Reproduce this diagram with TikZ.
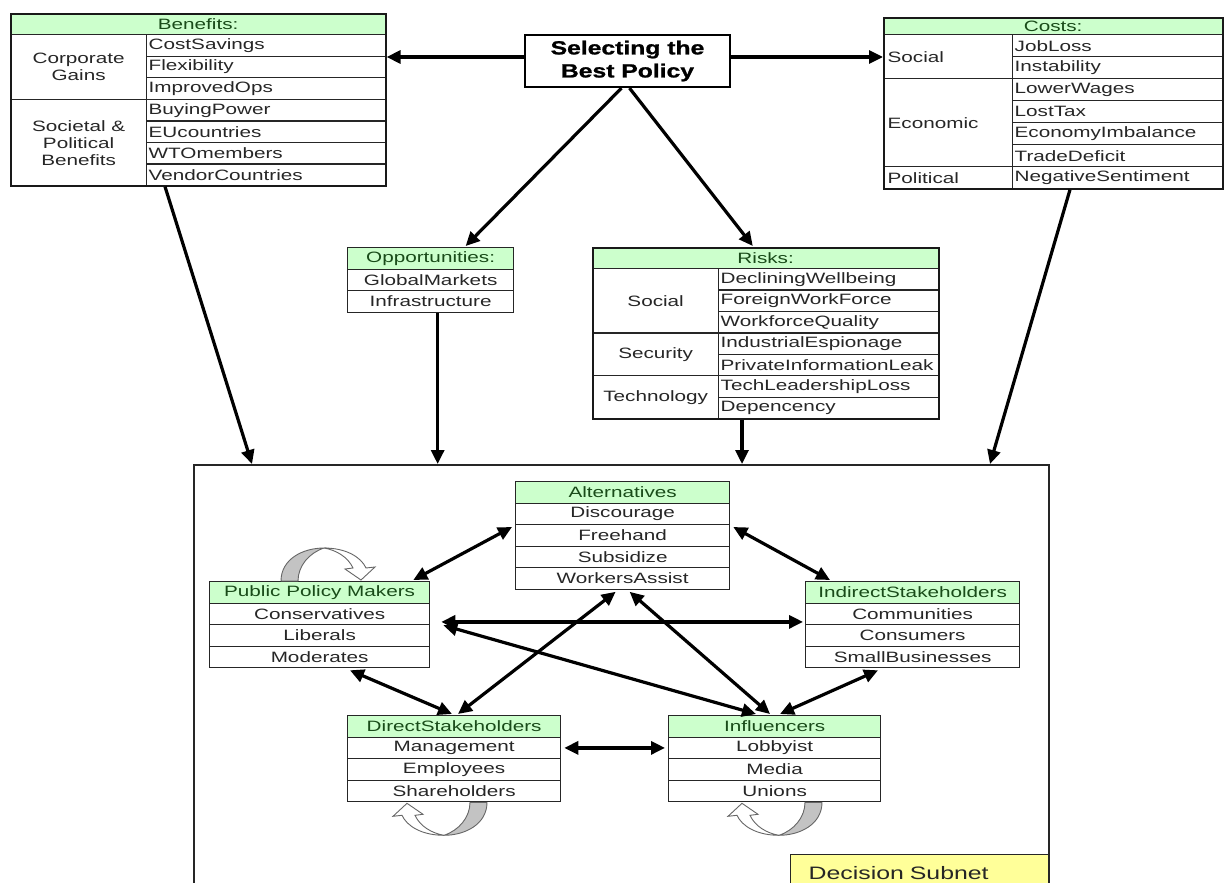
\documentclass[tikz,border=0pt]{standalone}
\usepackage{fontspec}
\setmainfont{Liberation Sans}[FakeStretch=1.38]
\newfontfamily\selfont{Liberation Sans}[FakeStretch=1.3, BoldFeatures={FakeBold=1.2}]
\usetikzlibrary{arrows.meta,calc}
\definecolor{hdrgreen}{RGB}{204,255,204}
\definecolor{hdrtext}{RGB}{25,75,25}
\definecolor{lblyellow}{RGB}{255,255,153}
\definecolor{loopgray}{RGB}{195,195,195}
\newcommand\tabfont{\fontsize{15}{17}\selectfont}
\newcommand\subtab[6]{%
  \node[hdr, minimum width=#4pt, minimum height=21.5pt, anchor=north west] (#1-h) at (#2,#3) {#5};
  \foreach \rowtxt [count=\i] in {#6} {
    \node[ccell, minimum width=#4pt, anchor=north west] (#1-\i) at ({#2},{#3+21.5+(\i-1)*21.5}) {\rowtxt};
  }%
}
\newcommand\loopshape{%
  \path[loopback] (140,0) .. controls (140,22) and (118,33) .. (97,33) .. controls (112,28) and (123,15) .. (123,0) -- cycle;
  \path[loopfront] (97,33) .. controls (75,33) and (60,24) .. (55,13) -- (46,14) -- (60,1) -- (76,12) -- (68,13) .. controls (73,24) and (85,31) .. (97,33) -- cycle;
}
\begin{document}
\begin{tikzpicture}[x=1pt,y=-1pt,
  cellbase/.style={draw=black!85, line width=1.3pt, inner sep=0pt, font=\tabfont, text=black!85},
  hdr/.style={cellbase, fill=hdrgreen, text=hdrtext},
  ccell/.style={cellbase, align=center, minimum height=21.5pt},
  lcell/.style={cellbase, align=left, text width=#1, inner xsep=2pt},
  glabel/.style={cellbase, align=center},
  llabel/.style={cellbase, align=left, text width=121pt, inner xsep=4pt},
  outer/.style={draw=black!90, line width=1.6pt, inner sep=0pt},
  selbox/.style={draw=black, line width=2.2pt, align=center, inner sep=0pt, font=\selfont\bfseries\fontsize{19}{23}\selectfont},
  sarr/.style={line width=3.2pt, -{Triangle[length=14pt,width=13pt]}},
  darr/.style={line width=3.2pt, {Triangle[length=14pt,width=13pt]}-{Triangle[length=14pt,width=13pt]}},
  loopback/.style={fill=loopgray, draw=black!60, line width=0.9pt},
  loopfront/.style={fill=white, draw=black!60, line width=0.9pt},
]
\useasboundingbox (0,0) rectangle (1229,883);
\clip (0,0) rectangle (1229,883);

% ---------- Benefits ----------
\node[hdr, minimum width=375pt, minimum height=21pt, anchor=north west] (ben-h) at (10,13) {Benefits:};
\foreach \rowtxt [count=\i] in {CostSavings,Flexibility,ImprovedOps,BuyingPower,EUcountries,WTOmembers,VendorCountries}
  \node[lcell=235pt, minimum height=21.57pt, anchor=north west] (ben-\i) at ({146},{34+(\i-1)*21.57}) {\rowtxt};
\node[glabel, minimum width=136pt, minimum height=65pt, anchor=north west] (ben-g1) at (10,34) {Corporate\\Gains};
\node[glabel, minimum width=136pt, minimum height=86pt, anchor=north west] (ben-g2) at (10,99) {Societal \&\\Political\\Benefits};
\node[outer, minimum width=375pt, minimum height=172pt, anchor=north west] (ben) at (10,13) {};

% ---------- Costs ----------
\node[hdr, minimum width=339pt, minimum height=17pt, anchor=north west] (cst-h) at (883,17) {Costs:};
\foreach \rowtxt [count=\i] in {JobLoss,Instability,LowerWages,LostTax,EconomyImbalance,TradeDeficit,NegativeSentiment}
  \node[lcell=206pt, minimum height=22pt, anchor=north west] (cst-\i) at ({1012},{34+(\i-1)*22}) {\rowtxt};
\node[llabel, minimum height=44pt, anchor=north west] (cst-g1) at (883,34) {Social};
\node[llabel, minimum height=88pt, anchor=north west] (cst-g2) at (883,78) {Economic};
\node[llabel, minimum height=22pt, anchor=north west] (cst-g3) at (883,166) {Political};
\node[outer, minimum width=339pt, minimum height=171pt, anchor=north west] (cst) at (883,17) {};

% ---------- Selecting ----------
\node[selbox, minimum width=205pt, minimum height=52pt] (sel) at (627.5,61) {Selecting the\\Best Policy};

% ---------- Opportunities ----------
\subtab{opp}{347}{247}{166}{Opportunities:}{GlobalMarkets,Infrastructure}

% ---------- Risks ----------
\node[hdr, minimum width=346pt, minimum height=21pt, anchor=north west] (rsk-h) at (592,247) {Risks:};
\foreach \rowtxt [count=\i] in {DecliningWellbeing,ForeignWorkForce,WorkforceQuality,IndustrialEspionage,PrivateInformationLeak,TechLeadershipLoss,Depencency}
  \node[lcell=216pt, minimum height=21.43pt, anchor=north west] (rsk-\i) at ({718},{268+(\i-1)*21.43}) {\rowtxt};
\node[glabel, minimum width=126pt, minimum height=64.29pt, anchor=north west] (rsk-g1) at (592,268) {Social};
\node[glabel, minimum width=126pt, minimum height=42.86pt, anchor=north west] (rsk-g2) at (592,332.29) {Security};
\node[glabel, minimum width=126pt, minimum height=42.86pt, anchor=north west] (rsk-g3) at (592,375.14) {Technology};
\node[outer, minimum width=346pt, minimum height=171pt, anchor=north west] (rsk) at (592,247) {};

% ---------- Decision subnet ----------
\node[draw=black!85, line width=1.8pt, minimum width=855pt, minimum height=440pt, anchor=north west, inner sep=0pt] (dec) at (193,464) {};
\node[draw=black!85, line width=1.3pt, fill=lblyellow, anchor=north west, minimum height=36pt, text width=222pt, inner xsep=18pt, inner ysep=0pt, align=left, font=\fontsize{18}{20}\selectfont, text=black!85] (dsl) at (790,854) {Decision Subnet};

\subtab{alt}{515}{481}{214}{Alternatives}{Discourage,Freehand,Subsidize,WorkersAssist}
\subtab{ppm}{209}{581}{220}{Public Policy Makers}{Conservatives,Liberals,Moderates}
\subtab{ind}{805}{581}{214}{IndirectStakeholders}{Communities,Consumers,SmallBusinesses}
\subtab{dir}{347}{715}{213}{DirectStakeholders}{Management,Employees,Shareholders}
\subtab{inf}{668}{715}{212}{Influencers}{Lobbyist,Media,Unions}

% ---------- top connectors ----------
\coordinate (selL) at ($(sel.west)+(0,-4)$);
\coordinate (selR) at ($(sel.east)+(0,-4)$);
\draw[sarr] (selL) -- (selL -| ben.east);
\draw[sarr] (selR) -- (selR -| cst.west);
\draw[sarr] ($(sel.south)+(-6,0)$) -- ($(opp-h.north)+(35,-1)$);
\draw[sarr] ($(sel.south)+(2,0)$) -- ($(rsk.north)+(-13,-1)$);
\draw[sarr] ($(ben.south west)+(155,0)$) -- ($(dec.north west)+(59,0)$);
\coordinate (oB) at ($(opp-2.south)+(7,0)$);
\draw[sarr] (oB) -- (oB |- dec.north);
\coordinate (rB) at ($(rsk.south west)+(150,0)$);
\draw[sarr] (rB) -- (rB |- dec.north);
\draw[sarr] ($(cst.south west)+(187,0)$) -- ($(dec.north west)+(797,0)$);

% ---------- subnet connectors ----------
\draw[darr] ($(alt-2.north west)+(-3,3)$) -- ($(ppm-h.north east)+(-17,-1)$);
\draw[darr] ($(alt-2.north east)+(3,3)$) -- ($(ind-h.north west)+(25,-1)$);
\draw[darr] ($(ppm-1.east)+(11,8)$) -- ($(ind-1.west)+(-2,8)$);
\draw[darr] ($(ppm-1.south east)+(13,0)$) -- ($(inf-h.north west)+(88,-1)$);
\draw[darr] ($(ppm-3.south west)+(141,2)$) -- ($(dir-h.north west)+(105,-1)$);
\draw[darr] ($(alt-4.south)+(-7,2)$) -- ($(dir-h.north west)+(111,-1)$);
\draw[darr] ($(alt-4.south)+(7,2)$) -- ($(inf-h.north west)+(102,-1)$);
\draw[darr] ($(ind-3.south west)+(73,2)$) -- ($(inf-h.north west)+(112,-1)$);
\draw[darr] ($(dir-1.east)+(3,0)$) -- ($(inf-1.west)+(-3,0)$);

% ---------- self loops ----------
\begin{scope}[shift={(dir-3.south west)}]\loopshape\end{scope}
\begin{scope}[shift={($(inf-3.south west)+(14,0)$)}]\loopshape\end{scope}
\begin{scope}[shift={($(ppm-h.north west)+(212,0)$)}, rotate=180]\loopshape\end{scope}
\end{tikzpicture}
\end{document}
